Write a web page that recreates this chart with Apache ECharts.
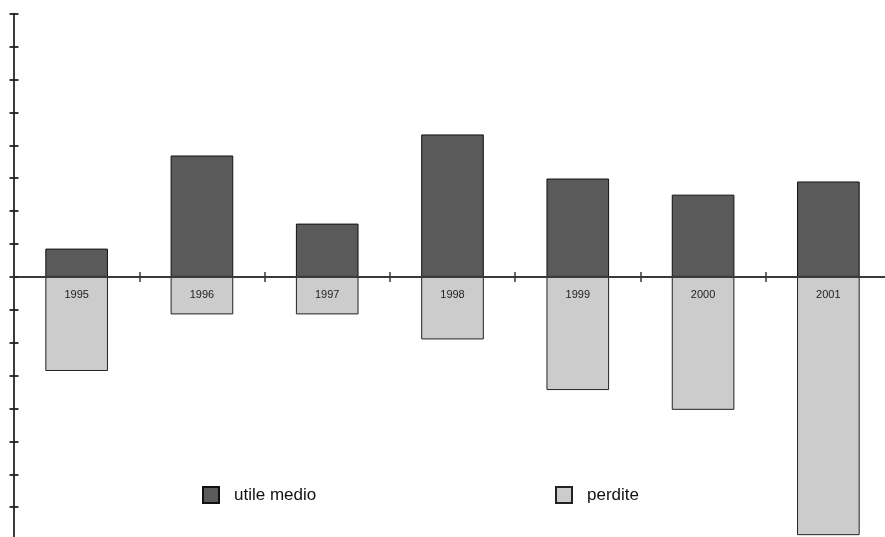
<!DOCTYPE html>
<html>
<head>
<meta charset="utf-8">
<script src="https://cdn.jsdelivr.net/npm/echarts@6/dist/echarts.min.js"></script>
<style>
  html, body { margin: 0; padding: 0; background: #fff; }
  #chart { width: 885px; height: 537px; }
</style>
</head>
<body>
<div id="chart"></div>
<script>
// Years on the category axis
const years = ['1995', '1996', '1997', '1998', '1999', '2000', '2001'];
// Average profit (above zero) and losses (below zero), in axis units
const utileMedio = [0.86, 3.69, 1.62, 4.33, 2.99, 2.50, 2.90];
const perdite = [-2.86, -1.14, -1.14, -1.90, -3.44, -4.04, -7.85];
// Value axis range and tick step
const yMin = -8;
const yMax = 8;
const yStep = 1;

const axisColor = '#3a3a3a';
const font = '"Liberation Sans", Arial, sans-serif';

const chart = echarts.init(document.getElementById('chart'), null, { renderer: 'canvas' });

chart.setOption({
  animation: false,
  backgroundColor: '#ffffff',
  grid: { left: 14, right: -6, top: 13.7, bottom: -3.1, containLabel: false, outerBoundsMode: 'none' },
  legend: [
    {
      data: ['utile medio'],
      left: 202, top: 486, padding: 0,
      itemWidth: 16, itemHeight: 16,
      icon: 'rect',
      textStyle: { fontFamily: font, fontSize: 17, color: '#111', padding: [0, 0, 0, 10] }
    },
    {
      data: ['perdite'],
      left: 555, top: 486, padding: 0,
      itemWidth: 16, itemHeight: 16,
      icon: 'rect',
      textStyle: { fontFamily: font, fontSize: 17, color: '#111', padding: [0, 0, 0, 10] }
    }
  ],
  xAxis: [
    {
      type: 'category',
      data: years,
      position: 'bottom',
      z: 5,
      boundaryGap: true,
      axisLine: { show: true, onZero: true, onZeroAxisIndex: 0, lineStyle: { color: axisColor, width: 2 } },
      axisTick: { show: true, length: 5, alignWithLabel: false, lineStyle: { color: axisColor, width: 1.5 } },
      axisLabel: { show: false },
      splitLine: { show: false }
    },
    {
      // inward half of the crossing tick marks on the category axis
      type: 'category',
      data: years,
      position: 'bottom',
      z: 5,
      boundaryGap: true,
      axisLine: { show: false, onZero: true, onZeroAxisIndex: 0 },
      axisTick: { show: true, inside: true, length: 5, lineStyle: { color: axisColor, width: 1.5 } },
      axisLabel: { show: false },
      splitLine: { show: false }
    }
  ],
  yAxis: [
    {
      type: 'value',
      position: 'left',
      min: yMin, max: yMax, interval: yStep,
      z: 5,
      axisLine: { show: true, onZero: false, lineStyle: { color: axisColor, width: 2 } },
      axisTick: { show: true, length: 4.5, lineStyle: { color: '#222', width: 1.8 } },
      axisLabel: { show: false },
      splitLine: { show: false }
    },
    {
      // inward half of the crossing tick marks on the value axis
      type: 'value',
      position: 'left',
      min: yMin, max: yMax, interval: yStep,
      z: 5,
      axisLine: { show: false, onZero: false },
      axisTick: { show: true, inside: true, length: 4.5, lineStyle: { color: '#222', width: 1.8 } },
      axisLabel: { show: false },
      splitLine: { show: false }
    }
  ],
  series: [
    {
      name: 'utile medio',
      type: 'bar',
      data: utileMedio,
      barWidth: '50%',
      barGap: '-100%',
      itemStyle: { color: '#5a5a5a', borderColor: '#111', borderWidth: 1 }
    },
    {
      name: 'perdite',
      type: 'bar',
      data: perdite,
      barWidth: '50%',
      barGap: '-100%',
      itemStyle: { color: '#cccccc', borderColor: '#222', borderWidth: 1 },
      // year names sit just under the zero line, inside the loss bars
      label: {
        show: true,
        position: 'insideTop',
        distance: 13,
        formatter: (p) => p.name,
        fontFamily: font,
        fontSize: 11,
        color: '#222'
      }
    }
  ]
});
</script>
</body>
</html>
